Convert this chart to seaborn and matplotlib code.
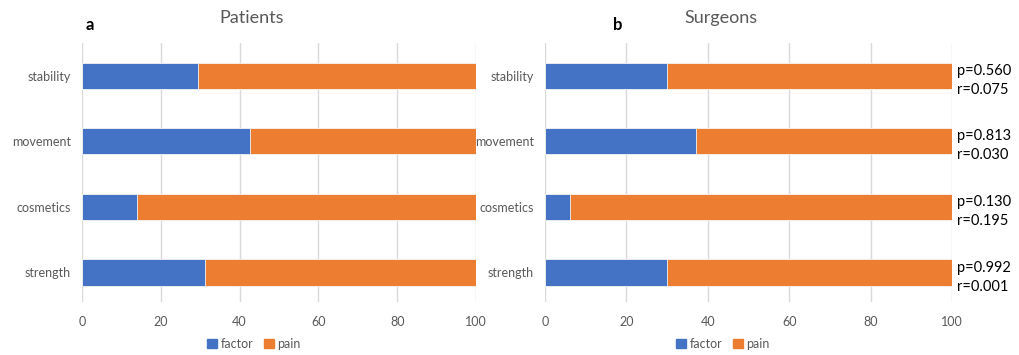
import matplotlib
matplotlib.use("Agg")
import matplotlib.pyplot as plt
from matplotlib.patches import Patch
import seaborn as sns
import pandas as pd

# Data
categories = ["stability", "movement", "cosmetics", "strength"]
patients_factor = [29.4, 42.6, 14.0, 31.2]
patients_pain = [70.6, 57.4, 86.0, 68.8]
surgeons_factor = [30.0, 37.1, 6.1, 30.0]
surgeons_pain = [70.0, 62.9, 93.9, 70.0]
p_values = ["0.560", "0.813", "0.130", "0.992"]
r_values = ["0.075", "0.030", "0.195", "0.001"]
x_ticks = [0, 20, 40, 60, 80, 100]

BLUE = "#4472C4"
ORANGE = "#ED7D31"
GRID = "#D9D9D9"
TXT = "#595959"

sns.set_theme(style="white")
plt.rcParams["font.family"] = ["Lato", "DejaVu Sans"]

fig = plt.figure(figsize=(10.19, 3.55), dpi=100)
ax_a = fig.add_axes([82 / 1019, 1 - 302 / 355, (476 - 82) / 1019, (302 - 43) / 355])
ax_b = fig.add_axes([545 / 1019, 1 - 302 / 355, (952 - 545) / 1019, (302 - 43) / 355])


def draw_panel(ax, factor, pain):
    df = pd.DataFrame({"category": categories, "factor": factor, "pain": pain})
    df["total"] = df["factor"] + df["pain"]
    sns.barplot(data=df, y="category", x="total", color=ORANGE, orient="h",
                width=0.4, ax=ax, saturation=1, edgecolor="#f5f5f5", linewidth=0.6)
    sns.barplot(data=df, y="category", x="factor", color=BLUE, orient="h",
                width=0.4, ax=ax, saturation=1, edgecolor="#f5f5f5", linewidth=0.6)
    ax.set_xlim(0, 100)
    ax.set_ylim(3.45, -0.5)
    ax.set_xticks(x_ticks)
    ax.set_xlabel("")
    ax.set_ylabel("")
    ax.grid(axis="x", color=GRID, linewidth=1)
    ax.set_axisbelow(True)
    for s in ax.spines.values():
        s.set_visible(False)
    ax.tick_params(axis="both", length=0, labelsize=9, colors=TXT)
    ax.tick_params(axis="x", pad=10)
    ax.tick_params(axis="y", pad=8)


draw_panel(ax_a, patients_factor, patients_pain)
draw_panel(ax_b, surgeons_factor, surgeons_pain)

# Statistics beside each surgeon bar
for i, (p, r) in enumerate(zip(p_values, r_values)):
    ax_b.text(101.2, i + 0.07, f"p={p}\nr={r}", ha="left", va="center",
              fontsize=10.5, color="black", linespacing=1.45, clip_on=False)

# Titles and panel letters
fig.text(252 / 1019, 1 - 18 / 355, "Patients", ha="center", va="center", fontsize=13, color=TXT)
fig.text(721 / 1019, 1 - 18 / 355, "Surgeons", ha="center", va="center", fontsize=13, color=TXT)
fig.text(86 / 1019, 1 - 25 / 355, "a", ha="left", va="center", fontsize=12, fontweight="bold", color="black")
fig.text(613 / 1019, 1 - 25 / 355, "b", ha="left", va="center", fontsize=12, fontweight="bold", color="black")

handles = [Patch(color=BLUE, label="factor"), Patch(color=ORANGE, label="pain")]
for cx in (254, 723):
    fig.legend(handles=handles, loc="center", bbox_to_anchor=(cx / 1019, 1 - 344 / 355),
               ncol=2, frameon=False, fontsize=9, handlelength=0.8, handleheight=0.8,
               handletextpad=0.3, columnspacing=0.8, labelcolor=TXT)

fig.savefig("out.png", dpi=100, facecolor="white")
